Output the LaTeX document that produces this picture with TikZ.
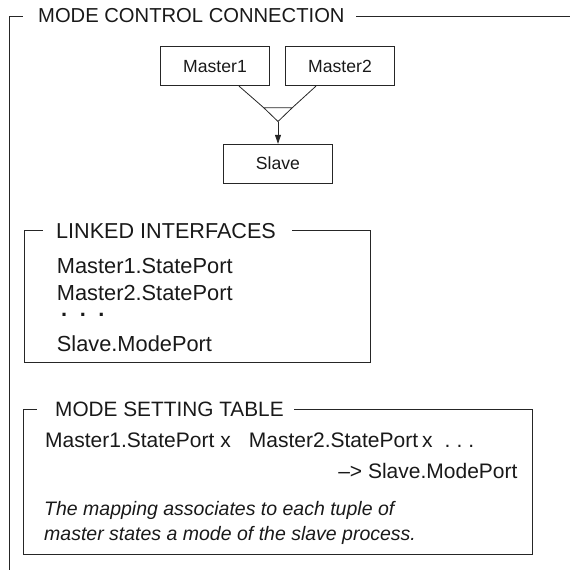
\documentclass[tikz,border=0pt]{standalone}
\usepackage{fontspec}
\setmainfont{Liberation Sans}
\usetikzlibrary{arrows.meta}
\begin{document}
\begin{tikzpicture}[x=1pt,y=-1pt,
  frame/.style={line width=0.8pt, draw=black!85},
  ttl/.style={anchor=west, inner sep=0pt, text=black!90},
  body/.style={anchor=base west, inner sep=0pt, text=black!90},
  mbox/.style={draw=black!85, line width=0.8pt, minimum width=108.6pt, minimum height=39pt,
    font=\fontsize{17.6}{20}\selectfont, inner sep=0pt, text=black!90},
]
\useasboundingbox (0,0) rectangle (570,570);

% outer frame
\node[ttl, font=\fontsize{20.2}{24}\selectfont] (t0) at (38,16) {MODE CONTROL CONNECTION};
\draw[frame] (22.7,16) -- (9,16) -- (9,570);
\draw[frame] (356,16) -- (570,16);

% diagram
\node[mbox] (m1) at (215,66.2) {Master1};
\node[mbox] (m2) at (340,66.2) {Master2};
\node[mbox] (sl) at (278,163.7) {Slave};
\coordinate (tl) at (263.7,107.7);
\coordinate (tr) at (292.3,107.7);
\coordinate (ap) at (278,121.5);
\draw[frame] ([xshift=24pt]m1.south) -- (tl);
\draw[frame] ([xshift=-24pt]m2.south) -- (tr);
\draw[frame] (tl) -- (tr) -- (ap) -- cycle;
\draw[frame, -{Triangle[length=9pt,width=6pt]}] (ap) -- (ap |- sl.north);

% linked interfaces
\node[ttl, font=\fontsize{21.6}{25}\selectfont] (t1) at (56,230.7) {LINKED INTERFACES};
\draw[frame] (42.7,230.7) -- (24,230.7) -- (24,362.3) -- (370.7,362.3) -- (370.7,230.7) -- (291.7,230.7);
\node[body, font=\fontsize{21.8}{26}\selectfont] (l1) at (56.7,273.3) {Master1.StatePort};
\node[body, font=\fontsize{21.8}{26}\selectfont] (l2) at (56.7,300) {Master2.StatePort};
\node[body, font=\fontsize{21.8}{26}\selectfont\bfseries] (l3) at (61,316) {.\hspace{12.5pt}.\hspace{12.5pt}.};
\node[body, font=\fontsize{21.8}{26}\selectfont] (l4) at (56.7,351.7) {Slave.ModePort};

% mode setting table
\node[ttl, font=\fontsize{20.8}{25}\selectfont] (t2) at (55,409.3) {MODE SETTING TABLE};
\draw[frame] (36.7,409.3) -- (23.3,409.3) -- (23.3,554) -- (532.3,554) -- (532.3,409.3) -- (294,409.3);
\node[body, font=\fontsize{21}{25}\selectfont] (r1) at (45,447.7)
  {Master1.StatePort\hspace{6pt}x\hspace{18pt}Master2.StatePort\hspace{4pt}x\hspace{12pt}.\hspace{6pt}.\hspace{6pt}.};
\node[anchor=base east, inner sep=0pt, text=black!90, font=\fontsize{21}{25}\selectfont] (r2) at (517.7,478.3) {–> Slave.ModePort};
\node[body, font=\fontsize{19.5}{24}\selectfont\itshape] (r3) at (44,515) {The mapping associates to each tuple of};
\node[body, font=\fontsize{19.5}{24}\selectfont\itshape] (r4) at (44,540.7) {master states a mode of the slave process.};
\end{tikzpicture}
\end{document}
